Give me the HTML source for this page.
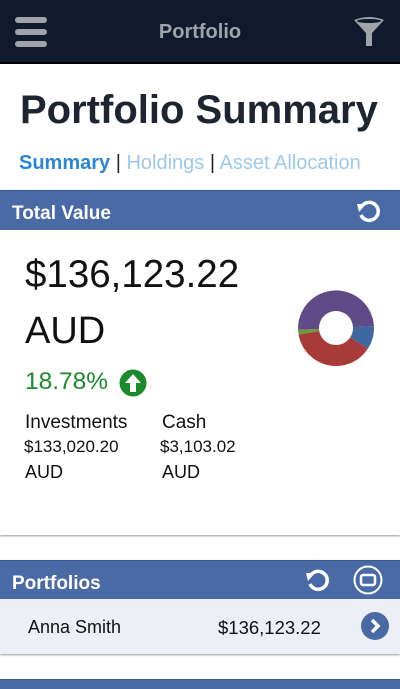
<!DOCTYPE html>
<html><head><meta charset="utf-8"><style>
body{margin:0;width:400px;height:685px;overflow:hidden;background:#fff;font-family:"Liberation Sans",sans-serif;position:relative}
div,span,svg{position:absolute;box-sizing:border-box}
.hdr{left:0;width:400px;background:#4a6aa6;color:#fff;font-weight:bold;font-size:19px;border-top:1px solid #3a5a96}
</style></head><body>
<div style="left:0;top:0;width:400px;height:64px;background:#111a2c;border-bottom:2px solid #000">
 <svg style="left:15px;top:17px" width="32" height="30"><rect x="0" y="0" width="32" height="6" rx="3" fill="#a0a3a8"/><rect x="0" y="12" width="32" height="6" rx="3" fill="#a0a3a8"/><rect x="0" y="24" width="32" height="6" rx="3" fill="#a0a3a8"/></svg>
 <span style="left:0;width:400px;top:21px;text-align:center;color:#a0a3a8;font-weight:bold;font-size:20px">Portfolio</span>
 <svg style="left:353px;top:17px" width="32" height="30"><path d="M1 3 Q16 -3 31 3 L19 16 L19 29 L13 29 L13 16 Z" fill="#a0a3a8"/><ellipse cx="16" cy="4" rx="12" ry="2" fill="#111a2c"/></svg>
</div>
<span style="left:20px;top:88px;font-size:40px;font-weight:bold;color:#1e2530">Portfolio Summary</span>
<div style="left:19px;top:152px;font-size:20px;white-space:nowrap;position:absolute">
 <span style="position:static;color:#2a86d4;font-weight:bold">Summary</span><span style="position:static;color:#222"> | </span><span style="position:static;color:#9cc8ec">Holdings</span><span style="position:static;color:#222"> | </span><span style="position:static;color:#9cc8ec">Asset Allocation</span>
</div>
<div style="left:0;top:190px;width:400px;height:345px;background:#fff;box-shadow:0 1px 2px #999"></div>
<div class="hdr" style="top:190px;height:40px"><span style="left:12px;top:12px">Total Value</span>
 <svg style="left:355px;top:6px" width="28" height="28"><path d="M7 9 A9 9 0 1 1 6 18" fill="none" stroke="#fff" stroke-width="3.5"/><path d="M2 7 L11 7 L4 15 Z" fill="#fff"/></svg></div>
<span style="left:25px;top:253px;font-size:38.5px;color:#111">$136,123.22</span>
<span style="left:25px;top:310px;font-size:38px;color:#111">AUD</span>
<span style="left:25px;top:368px;font-size:24.5px;color:#1a8a2a">18.78%</span>
<svg style="left:119px;top:369px" width="28" height="28"><circle cx="14" cy="14" r="13.5" fill="#1a8a2a"/><path d="M14 5 L22 14 L17 14 L17 23 L11 23 L11 14 L6 14 Z" fill="#fff"/></svg>
<span style="left:25px;top:412px;font-size:19px;color:#111">Investments</span>
<span style="left:24px;top:437px;font-size:17px;color:#111">$133,020.20</span>
<span style="left:25px;top:462px;font-size:18px;color:#111">AUD</span>
<span style="left:162px;top:412px;font-size:19px;color:#111">Cash</span>
<span style="left:160px;top:437px;font-size:17px;color:#111">$3,103.02</span>
<span style="left:162px;top:462px;font-size:18px;color:#111">AUD</span>
<svg id="donut" style="left:296px;top:288px" width="80" height="80"></svg>
<div style="left:0;top:560px;width:400px;height:94px;background:#eceff6;box-shadow:0 1px 2px #999"></div>
<div class="hdr" style="top:560px;height:39px"><span style="left:12px;top:12px">Portfolios</span>
 <svg style="left:304px;top:5px" width="28" height="28"><path d="M7 9 A9 9 0 1 1 6 18" fill="none" stroke="#fff" stroke-width="3.5"/><path d="M2 7 L11 7 L4 15 Z" fill="#fff"/></svg>
 <svg style="left:353px;top:4px" width="30" height="30"><circle cx="15" cy="15" r="13.5" fill="none" stroke="#fff" stroke-width="2"/><rect x="8" y="10" width="14" height="10" rx="2" fill="none" stroke="#fff" stroke-width="2.5"/></svg></div>
<span style="left:28px;top:617px;font-size:18px;color:#111">Anna Smith</span>
<span style="left:218px;top:617px;font-size:18.5px;color:#111">$136,123.22</span>
<svg style="left:361px;top:612px" width="28" height="28"><circle cx="14" cy="14" r="14" fill="#4a6aa6"/><path d="M11 8 L17 14 L11 20" fill="none" stroke="#fff" stroke-width="3.5"/></svg>
<div class="hdr" style="top:679px;height:10px"></div>
<script>
const segLabels=["Equities","Cash","Fixed Income","Other"];
const segValues=[50,10,38,2];
const segColors=["#5e4a86","#3e679e","#a83a3a","#6e9a3e"];
const svg=document.getElementById('donut');
const cx=40,cy=40,R=38,r=17;
const total=segValues.reduce((a,b)=>a+b,0);
let a0=-Math.PI-0.05;
function pt(rad,a){return (cx+rad*Math.cos(a)).toFixed(2)+' '+(cy+rad*Math.sin(a)).toFixed(2);}
segValues.forEach((v,i)=>{
 const a1=a0+v/total*Math.PI*2;
 const lg=(a1-a0)>Math.PI?1:0;
 const p=document.createElementNS('http://www.w3.org/2000/svg','path');
 p.setAttribute('d','M'+pt(R,a0)+' A'+R+' '+R+' 0 '+lg+' 1 '+pt(R,a1)+' L'+pt(r,a1)+' A'+r+' '+r+' 0 '+lg+' 0 '+pt(r,a0)+' Z');
 p.setAttribute('fill',segColors[i]);
 
 
 svg.appendChild(p);
 a0=a1;
});
</script>
</body></html>
